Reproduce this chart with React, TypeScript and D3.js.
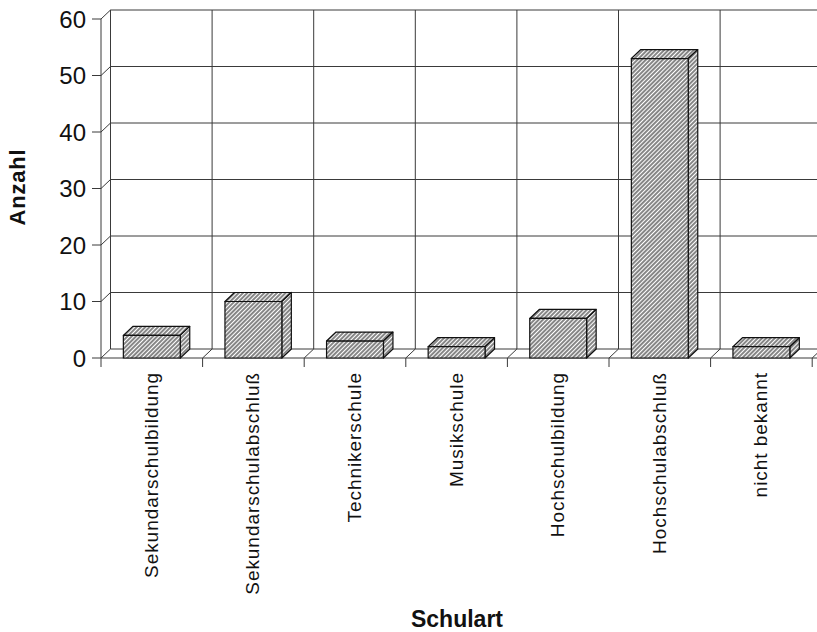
import React from "react";
import * as d3 from "d3";

// Schularten und Anzahl
const categories = [
  "Sekundarschulbildung",
  "Sekundarschulabschluß",
  "Technikerschule",
  "Musikschule",
  "Hochschulbildung",
  "Hochschulabschluß",
  "nicht bekannt",
];
const counts = [4, 10, 3, 2, 7, 53, 2];
const yTicks = [0, 10, 20, 30, 40, 50, 60];
const yTitle = "Anzahl";
const xTitle = "Schulart";

const W = 817;
const H = 632;
const FRONT_LEFT = 101;
const STEP = 101.6;
const DX = 9.5; // depth offset to the right
const DY = 9; // depth offset upward
const RIGHT = W + 20;
const LINE = "#3a3a3a";
const FONT = "'Liberation Sans', Arial, Helvetica, sans-serif";

export default function App() {
  const y = d3.scaleLinear().domain([0, 60]).range([358, 19]);
  const x = d3
    .scaleBand<string>()
    .domain(categories)
    .range([FRONT_LEFT, FRONT_LEFT + STEP * categories.length])
    .padding(0);
  const barW = x.bandwidth() * 0.56;
  const y0 = y(0);

  return (
    <div style={{ position: "absolute", left: 0, top: 0 }}>
      <svg width={W} height={H} style={{ display: "block", background: "#fff" }}>
        <defs>
          <pattern
            id="hatch"
            width={3}
            height={10}
            patternUnits="userSpaceOnUse"
            patternTransform="rotate(45)"
          >
            <rect width={3} height={10} fill="#fff" />
            <line x1={1} y1={0} x2={1} y2={10} stroke="#222" strokeWidth={1.1} />
          </pattern>
        </defs>

        {/* Rückwand: horizontale Gitterlinien */}
        {yTicks.map((t) => (
          <g key={"g" + t} stroke={LINE} strokeWidth={1}>
            {t > 0 && (
              <line x1={FRONT_LEFT + DX} x2={RIGHT} y1={y(t) - DY} y2={y(t) - DY} />
            )}
            <line x1={FRONT_LEFT} y1={y(t)} x2={FRONT_LEFT + DX} y2={y(t) - DY} />
            <line x1={FRONT_LEFT - 9} x2={FRONT_LEFT} y1={y(t)} y2={y(t)} />
          </g>
        ))}

        {/* linke Wand */}
        <line x1={FRONT_LEFT} x2={FRONT_LEFT} y1={y(60)} y2={y0 + 9} stroke={LINE} />
        <line
          x1={FRONT_LEFT + DX}
          x2={FRONT_LEFT + DX}
          y1={y(60) - DY}
          y2={y0 - DY}
          stroke={LINE}
        />

        {/* Boden */}
        <line x1={FRONT_LEFT} x2={RIGHT} y1={y0} y2={y0} stroke={LINE} />
        <line x1={FRONT_LEFT + DX} x2={RIGHT} y1={y0 - DY} y2={y0 - DY} stroke={LINE} />

        {/* Kategoriengrenzen */}
        {d3.range(1, categories.length + 1).map((i) => {
          const fx = FRONT_LEFT + i * STEP;
          return (
            <g key={"v" + i} stroke={LINE} strokeWidth={1}>
              <line x1={fx + DX} x2={fx + DX} y1={y(60) - DY} y2={y0 - DY} />
              <line x1={fx} y1={y0} x2={fx + DX} y2={y0 - DY} />
              <line x1={fx} x2={fx} y1={y0} y2={y0 + 9} />
            </g>
          );
        })}

        {/* Säulen */}
        {categories.map((c, i) => {
          const x0 = (x(c) as number) + (x.bandwidth() - barW) / 2;
          const x1 = x0 + barW;
          const yt = y(counts[i]);
          const top = `M${x0},${yt} L${x1},${yt} L${x1 + DX},${yt - DY} L${x0 + DX},${yt - DY} Z`;
          const side = `M${x1},${yt} L${x1 + DX},${yt - DY} L${x1 + DX},${y0 - DY} L${x1},${y0} Z`;
          return (
            <g key={"b" + c} stroke="#111" strokeWidth={1.2} strokeLinejoin="round">
              <path d={top} fill="url(#hatch)" />
              <path d={side} fill="url(#hatch)" />
              <rect x={x0} y={yt} width={barW} height={y0 - yt} fill="url(#hatch)" />
            </g>
          );
        })}

        {/* Y-Achsenbeschriftung */}
        {yTicks.map((t) => (
          <text
            key={"t" + t}
            x={86}
            y={y(t)}
            dy="0.36em"
            textAnchor="end"
            fontFamily={FONT}
            fontSize={24}
            fill="#111"
          >
            {t}
          </text>
        ))}

        {/* Kategorienbeschriftung */}
        {categories.map((c) => {
          const cx = (x(c) as number) + x.bandwidth() / 2;
          return (
            <text
              key={"l" + c}
              transform={`translate(${cx + 6},372) rotate(-90)`}
              textAnchor="end"
              fontFamily={FONT}
              fontSize={19}
              letterSpacing={0.95}
              fill="#111"
            >
              {c}
            </text>
          );
        })}

        <text
          transform="translate(25,187) rotate(-90)"
          textAnchor="middle"
          fontFamily={FONT}
          fontSize={22}
          fontWeight="bold"
          letterSpacing={0.8}
          fill="#111"
        >
          {yTitle}
        </text>
        <text
          x={457}
          y={627}
          textAnchor="middle"
          fontFamily={FONT}
          fontSize={23}
          fontWeight="bold"
          fill="#111"
        >
          {xTitle}
        </text>
      </svg>
    </div>
  );
}
